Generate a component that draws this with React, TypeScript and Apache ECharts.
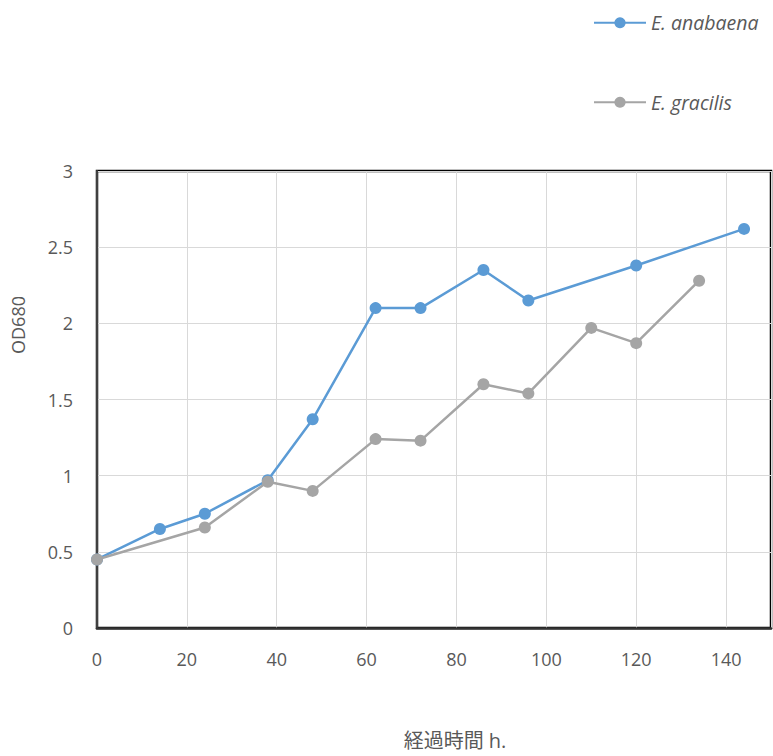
import React, { useEffect, useRef } from "react";
import * as echarts from "echarts";

// Growth curves (OD680) for two Euglena strains, sampled in hours
const anabaenaHours = [0, 14, 24, 38, 48, 62, 72, 86, 96, 120, 144];
const anabaenaOD = [0.45, 0.65, 0.75, 0.97, 1.37, 2.1, 2.1, 2.35, 2.15, 2.38, 2.62];

const gracilisHours = [0, 24, 38, 48, 62, 72, 86, 96, 110, 120, 134];
const gracilisOD = [0.45, 0.66, 0.96, 0.9, 1.24, 1.23, 1.6, 1.54, 1.97, 1.87, 2.28];

const seriesNames = ["E. anabaena", "E. gracilis"];
const seriesColors = ["#5B9BD5", "#A5A5A5"];

const xTitle = "経過時間 h.";
const yTitle = "OD680";

const FONT = "'Open Sans', 'Noto Sans CJK JP', sans-serif";
const TEXT = "#595959";

export default function App() {
  const ref = useRef<HTMLDivElement>(null);

  useEffect(() => {
    if (!ref.current) return;
    const chart = echarts.init(ref.current, undefined, { renderer: "svg" });

    const pairs = (xs: number[], ys: number[]) => xs.map((x, i) => [x, ys[i]]);

    const lineSeries = (idx: number, data: number[][]) => ({
      name: seriesNames[idx],
      type: "line",
      data,
      symbol: "circle",
      symbolSize: 12,
      lineStyle: { color: seriesColors[idx], width: 2.5 },
      itemStyle: { color: seriesColors[idx] },
      z: 3 + idx,
    });

    chart.setOption({
      animation: false,
      backgroundColor: "#ffffff",
      textStyle: { fontFamily: FONT },
      legend: {
        orient: "vertical",
        left: 588,
        top: 8,
        itemWidth: 52,
        itemHeight: 14,
        itemGap: 60,
        data: seriesNames,
        textStyle: {
          color: TEXT,
          fontSize: 19.5,
          fontStyle: "italic",
          fontFamily: FONT,
        },
      },
      grid: {
        left: 97,
        right: 2,
        top: 171,
        bottom: 128,
        show: true,
        borderColor: "#000000",
        borderWidth: 2.5,
        containLabel: false,
      },
      xAxis: {
        type: "value",
        min: 0,
        max: 150,
        interval: 20,
        axisLine: { show: true, onZero: false, lineStyle: { color: "#333333", width: 2.5 } },
        axisTick: { show: false },
        axisLabel: {
          color: TEXT,
          fontSize: 18,
          margin: 22,
          showMaxLabel: false,
          fontFamily: FONT,
        },
        splitLine: { show: true, lineStyle: { color: "#D9D9D9", width: 1 } },
      },
      yAxis: {
        type: "value",
        min: 0,
        max: 3,
        interval: 0.5,
        axisLine: { show: true, onZero: false, lineStyle: { color: "#404040", width: 2 } },
        axisTick: { show: false },
        axisLabel: { color: TEXT, fontSize: 18, margin: 24, fontFamily: FONT },
        splitLine: { show: true, lineStyle: { color: "#D9D9D9", width: 1 } },
      },
      graphic: [
        {
          type: "text",
          x: 18,
          y: 325,
          rotation: Math.PI / 2,
          style: {
            text: yTitle,
            fill: TEXT,
            fontSize: 18,
            fontFamily: FONT,
            textAlign: "center",
            textVerticalAlign: "middle",
          },
        },
        {
          type: "text",
          x: 455,
          y: 740,
          style: {
            text: xTitle,
            fill: TEXT,
            fontSize: 20,
            fontFamily: FONT,
            textAlign: "center",
            textVerticalAlign: "middle",
          },
        },
      ],
      series: [
        lineSeries(0, pairs(anabaenaHours, anabaenaOD)),
        lineSeries(1, pairs(gracilisHours, gracilisOD)),
      ],
    });

    return () => chart.dispose();
  }, []);

  return <div ref={ref} style={{ width: 773, height: 756, position: "absolute", left: 0, top: 0 }} />;
}
